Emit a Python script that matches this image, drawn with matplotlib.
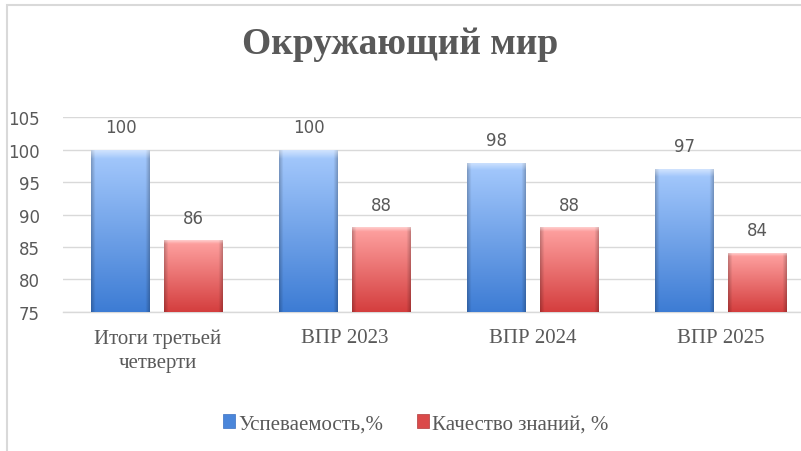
import numpy as np
import matplotlib
matplotlib.use("Agg")
import matplotlib.pyplot as plt
from matplotlib.patches import Rectangle
from matplotlib.colors import to_rgb

categories = ["Итоги третьей\nчетверти", "ВПР 2023", "ВПР 2024", "ВПР 2025"]
uspev = [100, 100, 98, 97]
kach = [86, 88, 88, 84]
series_names = ["Успеваемость,%", "Качество знаний, %"]
yticks = [75, 80, 85, 90, 95, 100, 105]

TXT = "#595959"
GRID = "#D9D9D9"
SERIF = ["Liberation Serif", "DejaVu Serif"]

fig = plt.figure(figsize=(8.01, 4.52), dpi=100)
fig.patch.set_facecolor("white")

ax = fig.add_axes([63.4 / 801, (452 - 312.7) / 452, 751.3 / 801, 194.4 / 452])
ax.set_xlim(-0.5, len(categories) - 0.5)
ax.set_ylim(75, 105)
ax.set_yticks(yticks)
ax.grid(axis="y", color=GRID, lw=1.0, zorder=0)
ax.set_axisbelow(True)
for s in ["left", "right", "top"]:
    ax.spines[s].set_visible(False)
ax.spines["bottom"].set_color(GRID)
ax.spines["bottom"].set_linewidth(1.0)
ax.tick_params(axis="both", length=0, colors=TXT)
ax.tick_params(axis="y", labelsize=12, pad=17)
ax.tick_params(axis="x", pad=12)
ax.set_xticks(np.arange(len(categories)))
ax.set_xticklabels(categories, family=SERIF, fontsize=15, color=TXT, linespacing=1.35)
for lab in ax.get_yticklabels():
    lab.set_family("DejaVu Sans")

x = np.arange(len(categories))
w = 0.314
off = 0.1935

def gradient_img(top, bottom, n=120, m=60):
    top = np.array(to_rgb(top)); bottom = np.array(to_rgb(bottom))
    t = np.linspace(0, 1, n)[:, None, None]
    img = top * (1 - t) + bottom * t
    img = np.repeat(img, m, axis=1)
    u = np.linspace(0, 1, m)
    edge = np.clip(1 - np.minimum(u, 1 - u) / 0.07, 0, 1)
    img = img * (1 - 0.22 * edge[None, :, None])
    hl = np.clip(1 - np.linspace(0, 1, n) / 0.05, 0, 1)[:, None, None]
    img = img * (1 - 0.45 * hl) + 0.45 * hl
    return np.clip(img, 0, 1)

def grad_bars(xs, vals, top, bottom, label):
    bars = ax.bar(xs, vals, width=w, bottom=0, color=bottom, zorder=2, label=label)
    img = gradient_img(top, bottom)
    for b in bars:
        x0, y0 = b.get_x(), 75
        x1, y1 = b.get_x() + b.get_width(), b.get_height()
        im = ax.imshow(img, extent=(x0, x1, y0, y1), aspect="auto", zorder=3,
                       origin="upper", interpolation="bilinear")
        im.set_clip_path(b)
        ax.annotate(f"{int(b.get_height())}", (b.get_x() + b.get_width() / 2, y1),
                    xytext=(0, 16.5), textcoords="offset points", ha="center",
                    va="center", fontsize=12, color=TXT, family="DejaVu Sans")
    return bars

b1 = grad_bars(x - off, uspev, "#A6CAFD", "#3D7CD4", series_names[0])
b2 = grad_bars(x + off, kach, "#FFA3A2", "#D43E3E", series_names[1])
ax.set_ylim(75, 105)

h1 = Rectangle((0, 0), 1, 1, facecolor="#4A86DA", edgecolor="#3A70C0", lw=0.5)
h2 = Rectangle((0, 0), 1, 1, facecolor="#DA4A4A", edgecolor="#B03A3A", lw=0.5)
leg = fig.legend([h1, h2], series_names, loc="center", bbox_to_anchor=(0.519, 0.06),
                 ncol=2, frameon=False, prop={"family": SERIF, "size": 15},
                 handlelength=0.6, handleheight=0.6, handletextpad=0.15,
                 columnspacing=1.6, labelcolor=TXT)

fig.text(0.5, 1 - 45 / 452, "Окружающий мир", ha="center", va="center",
         fontsize=27, fontweight="bold", color=TXT, family=SERIF)

fig.patches.append(Rectangle((7 / 801, -0.2), 1.5, 1.2 - 6 / 452,
                             transform=fig.transFigure, fill=False,
                             edgecolor=GRID, lw=1.5))

fig.savefig("out.png", dpi=100, facecolor="white")
